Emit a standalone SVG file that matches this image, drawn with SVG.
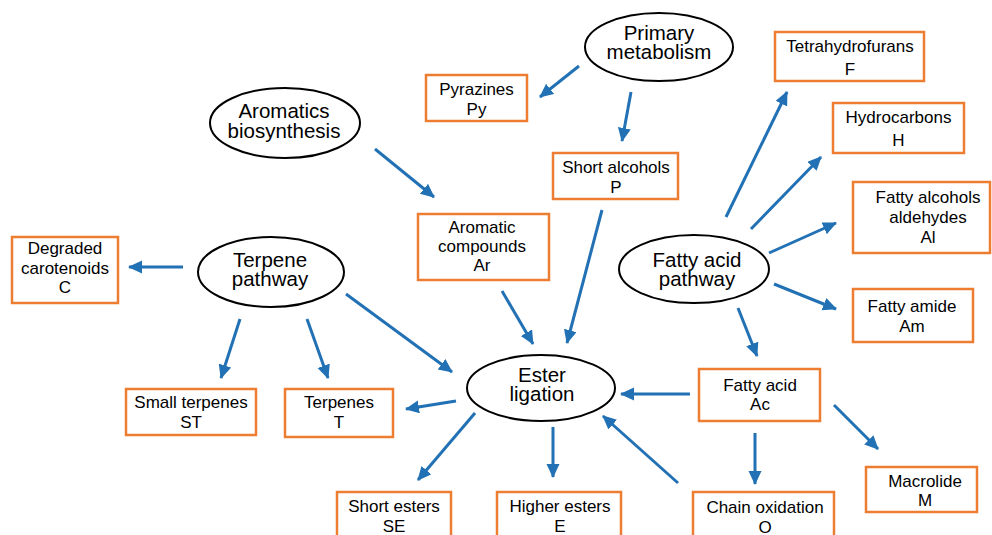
<svg xmlns="http://www.w3.org/2000/svg" width="992" height="535" viewBox="0 0 992 535">
<style>
.ell{fill:#fff;stroke:#000;stroke-width:2}
.box{fill:#fff;stroke:#ED7D31;stroke-width:2.5}
.et{font-family:"Liberation Sans",Arial,sans-serif;font-size:20.5px;fill:#000;text-anchor:middle}
.bt{font-family:"Liberation Sans",Arial,sans-serif;font-size:17px;fill:#000;text-anchor:middle}
.arr{stroke:#2271B5;stroke-width:3;fill:none;marker-end:url(#ah)}
</style>
<defs>
<marker id="ah" markerUnits="userSpaceOnUse" markerWidth="16" markerHeight="14" refX="13" refY="6.5" orient="auto">
<path d="M0,0 L14,6.5 L0,13 Z" fill="#2271B5"/>
</marker>
</defs>
<rect width="992" height="535" fill="#fff"/>

<g id="primary"><ellipse class="ell" cx="659" cy="47" rx="74" ry="34"/><text class="et" x="659" y="40">Primary</text><text class="et" x="659" y="59">metabolism</text></g>
<g id="aromatics"><ellipse class="ell" cx="285" cy="123" rx="75" ry="35"/><text class="et" x="284" y="118">Aromatics</text><text class="et" x="284" y="138">biosynthesis</text></g>
<g id="terpene"><ellipse class="ell" cx="271" cy="272" rx="73" ry="35"/><text class="et" x="270" y="267">Terpene</text><text class="et" x="270" y="286">pathway</text></g>
<g id="ester"><ellipse class="ell" cx="541" cy="388" rx="74" ry="33"/><text class="et" x="542" y="382">Ester</text><text class="et" x="542" y="401">ligation</text></g>
<g id="fatty"><ellipse class="ell" cx="694" cy="269" rx="75" ry="34"/><text class="et" x="697" y="267">Fatty acid</text><text class="et" x="697" y="286">pathway</text></g>

<g id="Py"><rect class="box" x="426" y="75" width="101" height="46"/><text class="bt" x="476.5" y="95">Pyrazines</text><text class="bt" x="476.5" y="115">Py</text></g>
<g id="P"><rect class="box" x="553" y="153" width="125" height="46"/><text class="bt" x="616" y="173">Short alcohols</text><text class="bt" x="616" y="193">P</text></g>
<g id="F"><rect class="box" x="775" y="32" width="149" height="49"/><text class="bt" x="850" y="52">Tetrahydrofurans</text><text class="bt" x="850" y="75">F</text></g>
<g id="H"><rect class="box" x="833" y="103" width="131" height="50"/><text class="bt" x="898.5" y="123">Hydrocarbons</text><text class="bt" x="898.5" y="146">H</text></g>
<g id="Al"><rect class="box" x="853" y="182" width="137" height="71"/><text class="bt" x="928" y="203">Fatty alcohols</text><text class="bt" x="928" y="223">aldehydes</text><text class="bt" x="928" y="243">Al</text></g>
<g id="Am"><rect class="box" x="853" y="289" width="120" height="53"/><text class="bt" x="912" y="312">Fatty amide</text><text class="bt" x="912" y="332">Am</text></g>
<g id="C"><rect class="box" x="12" y="237" width="106" height="66"/><text class="bt" x="65" y="254">Degraded</text><text class="bt" x="65" y="274">carotenoids</text><text class="bt" x="65" y="293">C</text></g>
<g id="Ar"><rect class="box" x="418" y="214" width="131" height="66"/><text class="bt" x="482" y="233">Aromatic</text><text class="bt" x="482" y="252">compounds</text><text class="bt" x="482" y="271">Ar</text></g>
<g id="ST"><rect class="box" x="126" y="389" width="130" height="46"/><text class="bt" x="191" y="408">Small terpenes</text><text class="bt" x="191" y="428">ST</text></g>
<g id="T"><rect class="box" x="285" y="389" width="108" height="48"/><text class="bt" x="339" y="408">Terpenes</text><text class="bt" x="339" y="428">T</text></g>
<g id="SE"><rect class="box" x="337" y="492" width="114" height="50"/><text class="bt" x="394" y="512">Short esters</text><text class="bt" x="394" y="532">SE</text></g>
<g id="E"><rect class="box" x="497" y="492" width="124" height="50"/><text class="bt" x="560" y="512">Higher esters</text><text class="bt" x="560" y="532">E</text></g>
<g id="Ac"><rect class="box" x="699" y="369" width="121" height="52"/><text class="bt" x="760" y="391">Fatty acid</text><text class="bt" x="760" y="410">Ac</text></g>
<g id="O"><rect class="box" x="693" y="492" width="141" height="50"/><text class="bt" x="765" y="513">Chain oxidation</text><text class="bt" x="765" y="533">O</text></g>
<g id="M"><rect class="box" x="866" y="467" width="111" height="45"/><text class="bt" x="925" y="487">Macrolide</text><text class="bt" x="925" y="506">M</text></g>

<g id="connectors">
<path class="arr" d="M579,66 L540,97"/>
<path class="arr" d="M631,92 L622,141"/>
<path class="arr" d="M375,149 L434,197"/>
<path class="arr" d="M183,267 L129,267"/>
<path class="arr" d="M240,319 L221,378"/>
<path class="arr" d="M307,319 L328,378"/>
<path class="arr" d="M346,294 L452,372"/>
<path class="arr" d="M502,291 L533,344"/>
<path class="arr" d="M602,210 L567,343"/>
<path class="arr" d="M726,217 L787,92"/>
<path class="arr" d="M751,229 L821,157"/>
<path class="arr" d="M769,253 L836,223"/>
<path class="arr" d="M774,284 L836,309"/>
<path class="arr" d="M738,308 L757,356"/>
<path class="arr" d="M690,394 L621,394"/>
<path class="arr" d="M456,401 L406,409"/>
<path class="arr" d="M475,413 L418,480"/>
<path class="arr" d="M553,427 L553,477"/>
<path class="arr" d="M678,483 L603,416"/>
<path class="arr" d="M755,433 L755,484"/>
<path class="arr" d="M834,405 L878,449"/>
</g>
</svg>
